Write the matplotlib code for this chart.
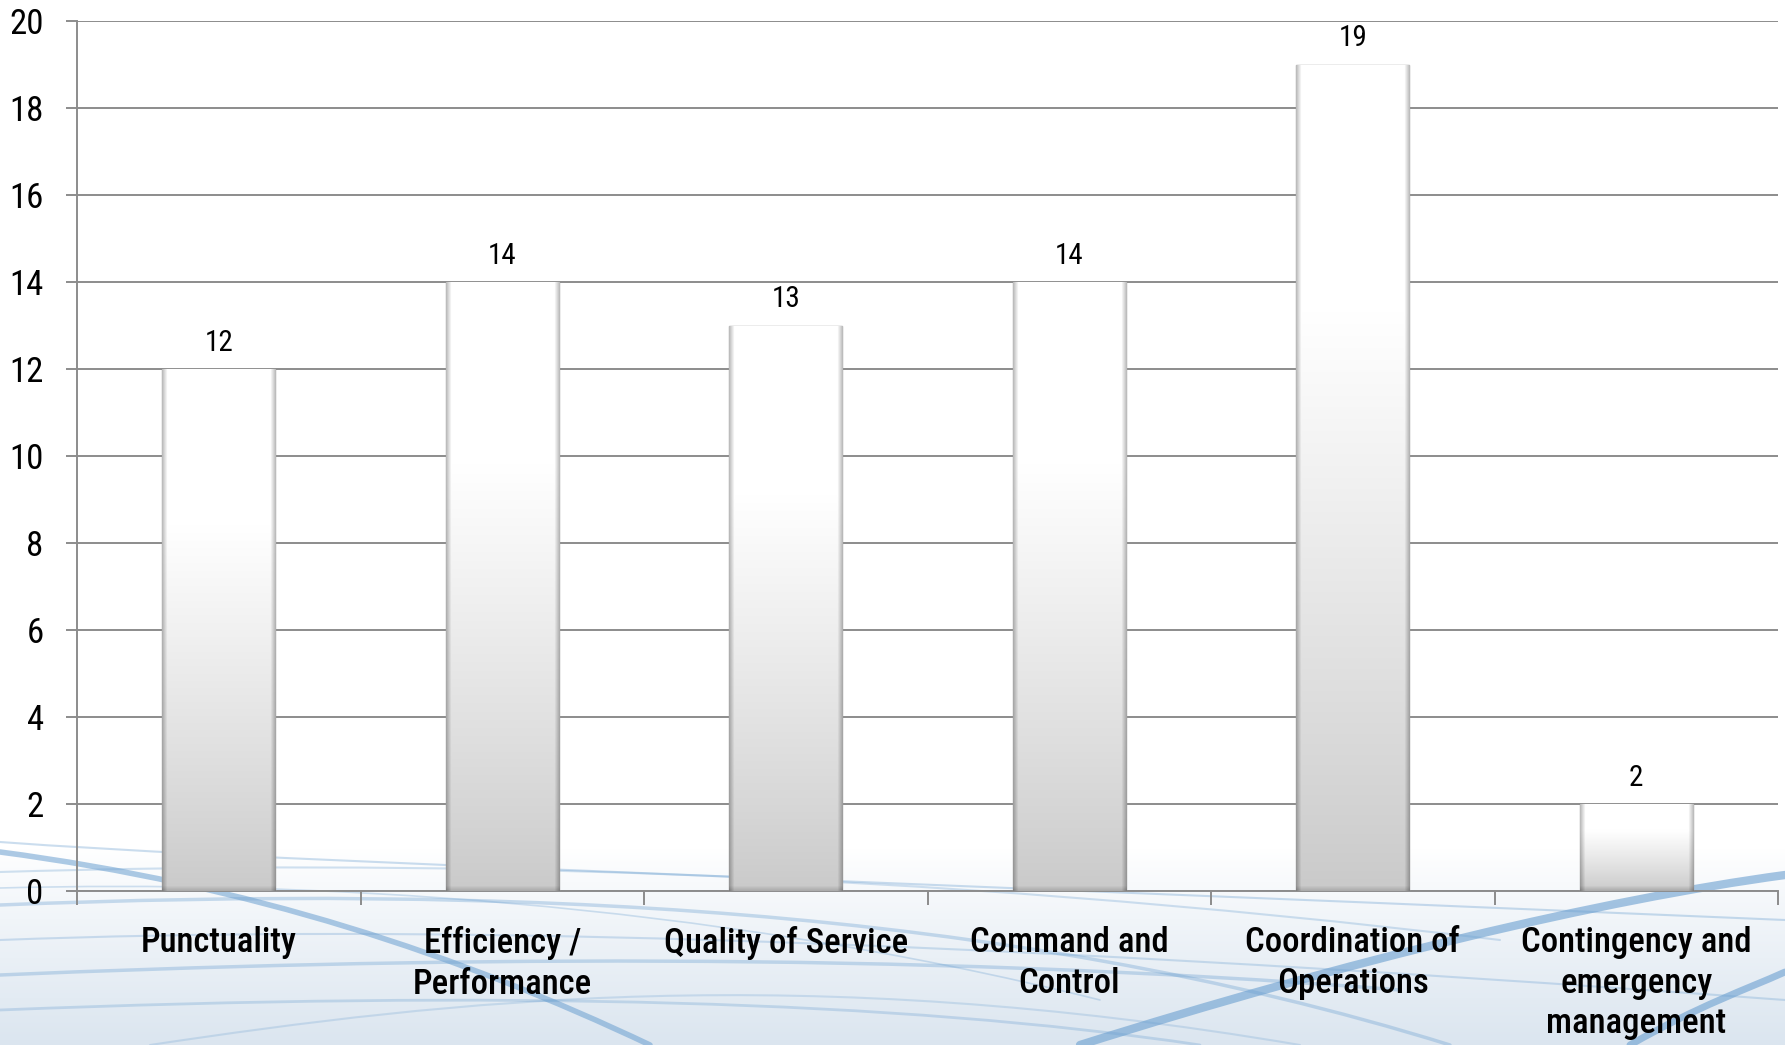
import numpy as np
import matplotlib
matplotlib.use("Agg")
import matplotlib.pyplot as plt
from matplotlib.path import Path
from matplotlib.patches import PathPatch

plt.rcParams['font.family'] = ['Roboto Condensed', 'DejaVu Sans']

categories = ["Punctuality", "Efficiency /\nPerformance", "Quality of Service",
              "Command and\nControl", "Coordination of\nOperations",
              "Contingency and\nemergency\nmanagement"]
counts = [12, 14, 13, 14, 19, 2]
y_ticks = [0, 2, 4, 6, 8, 10, 12, 14, 16, 18, 20]

W, H = 1785, 1045
fig = plt.figure(figsize=(W / 100, H / 100), dpi=100)

# background layer in pixel coordinates: pale blue wash and sweeping lines
bg = fig.add_axes([0, 0, 1, 1], zorder=0)
bg.set_xlim(0, W)
bg.set_ylim(H, 0)
bg.axis("off")
rows = np.linspace(0, 1, H)
wash = np.clip((rows * H - 850) / (H - 850), 0, 1) ** 0.9
top = np.array([1.0, 1.0, 1.0])
bottom = np.array([0.86, 0.90, 0.94])
img = top[None, None, :] * (1 - wash[:, None, None]) + bottom[None, None, :] * wash[:, None, None]
img = np.repeat(img, 4, axis=1)
bg.imshow(img, extent=(0, W, H, 0), aspect="auto", interpolation="bilinear")

swoosh = [
    # (start, ctrl1, ctrl2, end, linewidth, alpha)
    ((0, 852), (250, 885), (460, 955), (650, 1045), 4.0, 0.55),
    ((1080, 1045), (1350, 960), (1600, 900), (1785, 875), 6.0, 0.6),
    ((1630, 1045), (1700, 1005), (1745, 990), (1785, 972), 5.0, 0.6),
    ((0, 842), (250, 860), (600, 870), (1785, 920), 1.5, 0.35),
    ((0, 872), (400, 860), (900, 868), (1500, 940), 1.5, 0.3),
    ((0, 905), (500, 885), (1000, 905), (1450, 1045), 2.5, 0.35),
    ((0, 940), (400, 925), (900, 935), (1785, 1000), 1.5, 0.3),
    ((0, 975), (400, 958), (900, 950), (1400, 990), 2.5, 0.35),
    ((0, 1010), (500, 990), (900, 1000), (1200, 1045), 2.0, 0.3),
    ((150, 1045), (450, 1000), (800, 960), (1300, 1045), 1.5, 0.25),
    ((0, 888), (300, 880), (700, 900), (1100, 1000), 1.2, 0.3),
]
for p0, p1, p2, p3, lw, a in swoosh:
    path = Path([p0, p1, p2, p3], [Path.MOVETO, Path.CURVE4, Path.CURVE4, Path.CURVE4])
    bg.add_patch(PathPatch(path, fill=False, edgecolor="#6a9fd0", lw=lw, alpha=a,
                           capstyle="round"))

# chart layer
ax = fig.add_axes([77 / W, 1 - 891 / H, (1778 - 77) / W, (891 - 21) / H], zorder=1)
ax.patch.set_alpha(0)

x = np.arange(len(categories))
bar_w = 0.4
bars = ax.bar(x, counts, width=bar_w, color="#dcdcdc", edgecolor="#a0a0a0",
              linewidth=1.0, zorder=3)

px_per_unit = (891 - 21) / 20.0
bar_px = bar_w * (1778 - 77) / 6.0
for rect, val in zip(bars, counts):
    h_px = max(int(val * px_per_unit), 2)
    w_px = int(bar_px)
    t = np.linspace(0, 1, h_px)[:, None]          # 0 bottom -> 1 top
    v = 0.79 + 0.21 * np.clip(t / 0.7, 0, 1) ** 0.9
    u = np.linspace(0, 1, w_px)[None, :]
    side = np.minimum(u, 1 - u) * w_px             # distance to side edge, px
    side_f = 0.74 + 0.26 * np.clip(side / 5.0, 0, 1)
    base = t * h_px                                # distance to bottom, px
    bot_f = 0.85 + 0.15 * np.clip(base / 5.0, 0, 1)
    shade = np.clip(v * side_f * bot_f, 0, 1)
    shade = shade[::-1, :]
    rgb = np.dstack([shade, shade, shade])
    im = ax.imshow(rgb, extent=(rect.get_x(), rect.get_x() + rect.get_width(), 0, val),
                   aspect="auto", interpolation="bilinear", zorder=3.5)
    im.set_clip_path(rect)
    ax.annotate(str(val), (rect.get_x() + rect.get_width() / 2, val),
                xytext=(0, 13), textcoords="offset points", ha="center",
                va="baseline", fontsize=21, color="black", zorder=5)

ax.set_xlim(-0.5, len(categories) - 0.5)
ax.set_ylim(0, 20)
ax.set_yticks(y_ticks)
ax.set_xticks(x)
ax.set_xticklabels(categories, fontsize=25, fontweight=500, linespacing=1.3)
ax.set_xticks(np.arange(-0.5, len(categories)), minor=True)
ax.tick_params(axis="x", which="major", length=0, pad=25)
ax.tick_params(axis="x", which="minor", length=10, width=1.4, color="#8c8c8c",
               direction="out")
ax.tick_params(axis="y", length=8, width=1.4, color="#8c8c8c", pad=16, labelsize=25)

ax.yaxis.grid(True, color="#8c8c8c", linewidth=1.4, zorder=1)
ax.set_axisbelow(True)
for s in ["top", "right"]:
    ax.spines[s].set_visible(False)
for s in ["left", "bottom"]:
    ax.spines[s].set_color("#8c8c8c")
    ax.spines[s].set_linewidth(1.4)

fig.savefig("out.png", dpi=100)
